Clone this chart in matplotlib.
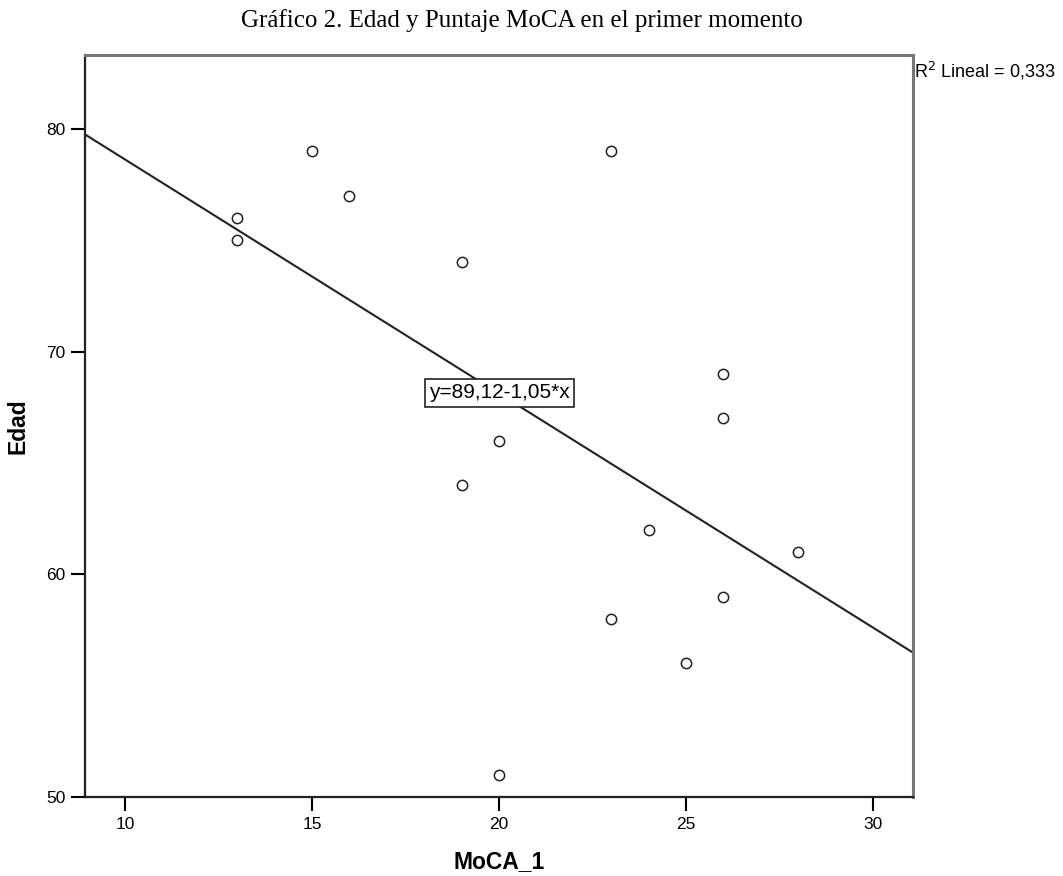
import matplotlib.pyplot as plt
import numpy as np

# datos
moca = [13, 13, 15, 16, 19, 19, 20, 20, 23, 23, 24, 25, 26, 26, 26, 28]
edad = [76, 75, 79, 77, 74, 64, 66, 51, 79, 58, 62, 56, 69, 67, 59, 61]
x_ticks = [10, 15, 20, 25, 30]
y_ticks = [50, 60, 70, 80]

x = np.array(moca, dtype=float)
y = np.array(edad, dtype=float)
pendiente, intercepto = np.polyfit(x, y, 1)
r2 = np.corrcoef(x, y)[0, 1] ** 2

fig = plt.figure(figsize=(10.63, 8.76), dpi=100)
ax = fig.add_axes([0.080, 0.090, 0.779, 0.847])

xmin, xmax = 8.93, 31.07
ax.set_xlim(xmin, xmax)
ax.set_ylim(50, 83.3)

xl = np.array([xmin, xmax])
ax.plot(xl, intercepto + pendiente * xl, color='#222222', linewidth=1.5, zorder=2)
ax.scatter(x, y, s=55, facecolors='white', edgecolors='#222222', linewidths=1.1, zorder=3)

ax.text(18.13, 68.14, f"y={intercepto:.2f}{pendiente:+.2f}*x".replace('.', ','),
        fontsize=15, family='Liberation Sans', va='center', ha='left',
        bbox=dict(boxstyle='square,pad=0.22', facecolor='white', edgecolor='#222222', linewidth=1.2),
        zorder=4)

ax.text(1.001, 0.993, f"R$^2$ Lineal = {r2:.3f}".replace('.', ','), transform=ax.transAxes,
        fontsize=13, family='Liberation Sans', va='top', ha='left')

ax.set_xticks(x_ticks)
ax.set_yticks(y_ticks)
ax.tick_params(direction='out', length=10, width=1.5, labelsize=12.5, pad=4)
for lab in ax.get_xticklabels() + ax.get_yticklabels():
    lab.set_family('Liberation Sans')

for s in ['left', 'bottom']:
    ax.spines[s].set_color('#222222')
    ax.spines[s].set_linewidth(1.6)
for s in ['top', 'right']:
    ax.spines[s].set_color('#777777')
    ax.spines[s].set_linewidth(2.2)

ax.set_xlabel('MoCA_1', fontsize=16.5, fontweight='bold', family='Liberation Sans', labelpad=13)
ax.set_ylabel('Edad', fontsize=16.5, fontweight='bold', family='Liberation Sans', labelpad=12)

fig.text(0.4906, 0.977, 'Gráfico 2. Edad y Puntaje MoCA en el primer momento',
         fontsize=18, family='Liberation Serif', ha='center', va='center')

fig.savefig('out.png', dpi=100, facecolor='white')
